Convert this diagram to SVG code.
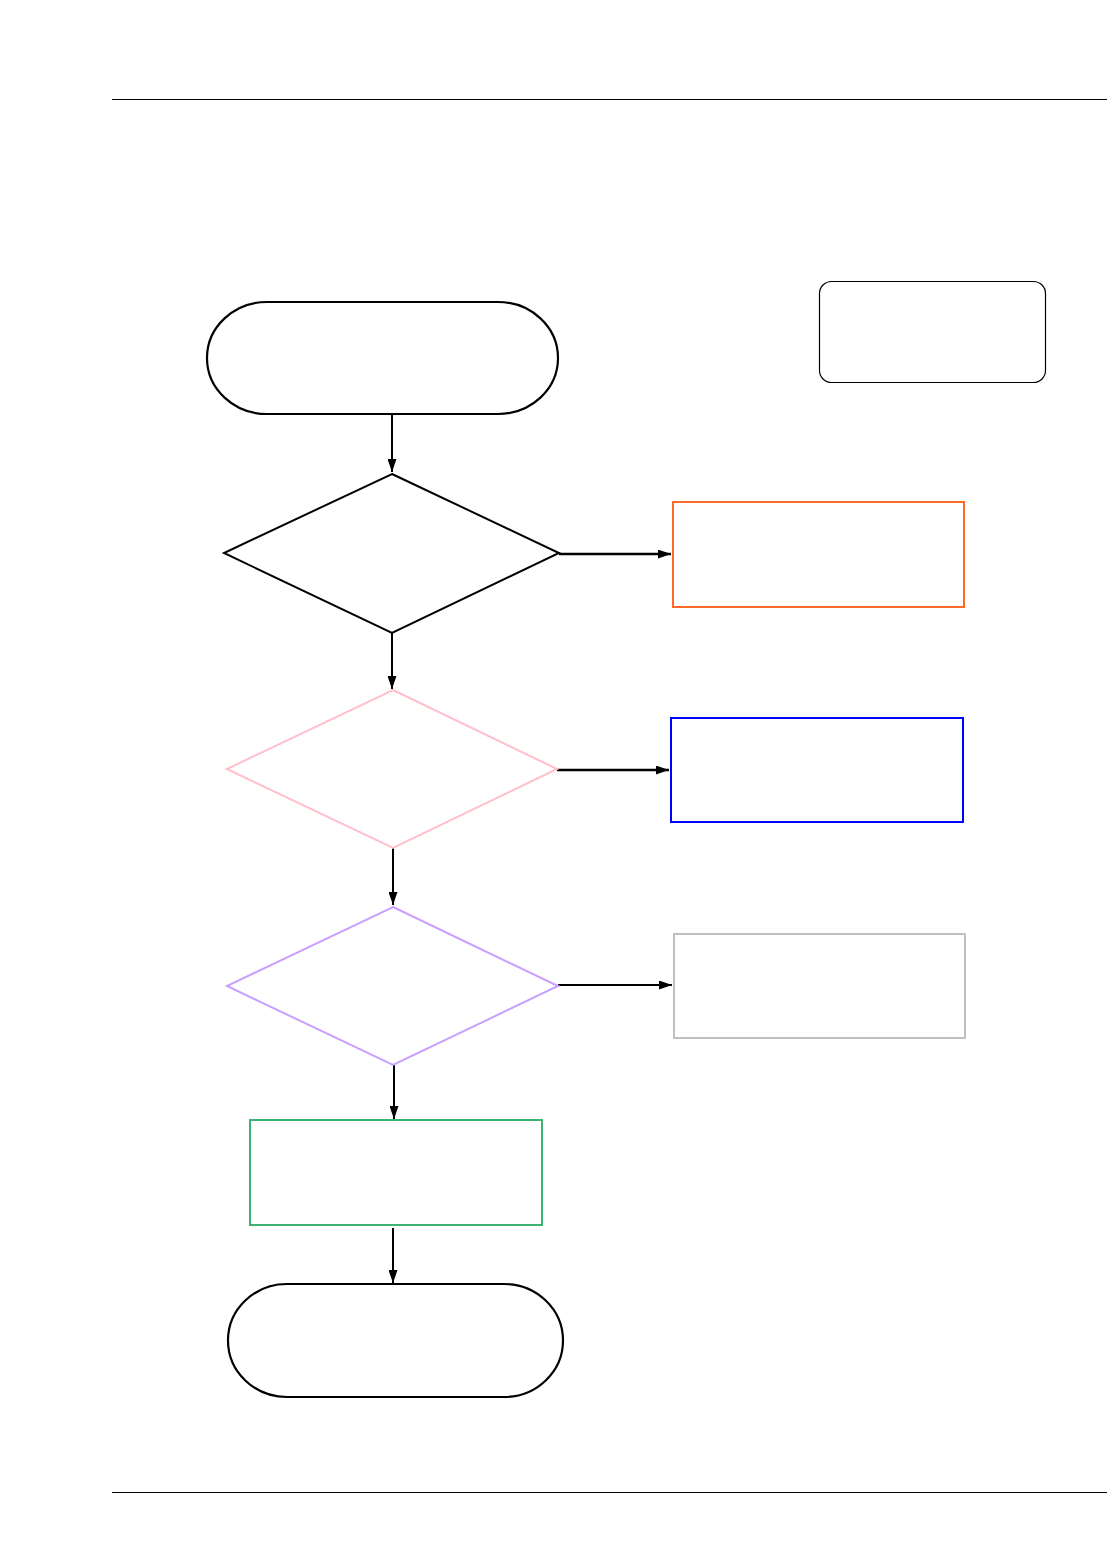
<svg xmlns="http://www.w3.org/2000/svg" width="1107" height="1554" viewBox="0 0 1107 1554">
<style>
.t{fill:#fff;stroke:#000;stroke-width:2.2}
.c{fill:none;stroke:#000;stroke-width:2}
.h{fill:none;stroke:#000;stroke-width:2.6}
.r{fill:#fff;stroke-width:2}
</style>
<defs>
<marker id="ah" markerWidth="13" markerHeight="9" refX="13" refY="4.5" orient="auto" markerUnits="userSpaceOnUse">
<path d="M0,0 L13,4.5 L0,9 Z" fill="#000"/>
</marker>
</defs>
<rect width="1107" height="1554" fill="#fff"/>
<line x1="112" y1="99.5" x2="1107" y2="99.5" stroke="#000" stroke-width="1"/>
<line x1="112" y1="1492.5" x2="1107" y2="1492.5" stroke="#000" stroke-width="1"/>
<g id="connectors">
<line class="c" x1="392" y1="414" x2="392" y2="472" marker-end="url(#ah)"/>
<line class="h" x1="559" y1="554" x2="671" y2="554" marker-end="url(#ah)"/>
<line class="c" x1="392" y1="633" x2="392" y2="689" marker-end="url(#ah)"/>
<line class="h" x1="557" y1="770" x2="669" y2="770" marker-end="url(#ah)"/>
<line class="c" x1="393" y1="848" x2="393" y2="905" marker-end="url(#ah)"/>
<line class="c" x1="558" y1="985" x2="672" y2="985" marker-end="url(#ah)"/>
<line class="c" x1="394" y1="1065" x2="394" y2="1119" marker-end="url(#ah)"/>
<line class="c" x1="393" y1="1228" x2="393" y2="1283" marker-end="url(#ah)"/>
</g>
<g id="start"><path class="t" d="M267,302 H498 A60,56 0 0 1 498,414 H267 A60,56 0 0 1 267,302 Z"/></g>
<g id="note"><rect x="819.5" y="281.5" width="226" height="101" rx="12" fill="#fff" stroke="#000" stroke-width="1.2"/></g>
<g id="decision1"><polygon points="392,474 559,553 392,633 224,553" fill="#fff" stroke="#000" stroke-width="2"/></g>
<g id="box-orange"><rect class="r" x="673" y="502" width="291" height="105" stroke="#FF6A28"/></g>
<g id="decision2"><polygon points="393,690 557,769 393,848 227,769" fill="#fff" stroke="#FFC0CB" stroke-width="2"/></g>
<g id="box-blue"><rect class="r" x="671" y="718" width="292" height="104" stroke="#0000FF"/></g>
<g id="decision3"><polygon points="393,907 558,986 393,1065 227,986" fill="#fff" stroke="#C8A0FF" stroke-width="2"/></g>
<g id="box-gray"><rect class="r" x="674" y="934" width="291" height="104" stroke="#C0C0C0"/></g>
<g id="box-green"><rect class="r" x="250" y="1120" width="292" height="105" stroke="#3CB371" stroke-width="2.5"/></g>
<g id="end"><path class="t" d="M287,1284 H504 A59,56.5 0 0 1 504,1397 H287 A59,56.5 0 0 1 287,1284 Z"/></g>
</svg>
